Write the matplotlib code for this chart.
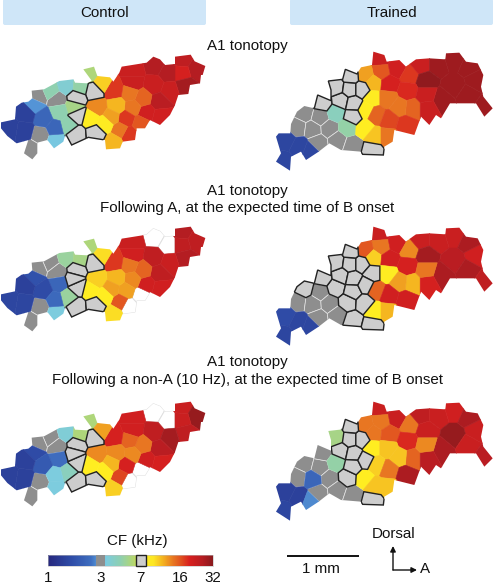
"""
A1 tonotopy maps, control vs trained, coloured by CF (kHz).
Sites and map outlines were read off by hand, in 3x picture units.
Cells are the Voronoi cells of the sites, cut to the map outline.
"""
from math import log2

import numpy as np
import matplotlib
matplotlib.use("Agg")
import matplotlib.pyplot as plt
from matplotlib.colors import LinearSegmentedColormap, LogNorm
from matplotlib.patches import FancyBboxPatch, Polygon, Rectangle

plt.rcParams['font.family'] = ['Liberation Sans', 'DejaVu Sans']

# g = no tone response (grey), s = selected (boxed), w = empty site
CTRL_SITES = [
    (548,180), (590,205), (545,218), (555,258), (465,195), (400,212), (505,218), (400,248),
    (462,255), (510,272), (478,305), (440,338), (482,348), (428,295), (390,280), (398,322),
    (378,355), (388,405), (425,370), (360,390), (340,425), (342,272), (350,318), (292,322),
    (335,350), (272,355), (315,372), (282,272), (230,292), (232,345), (228,405), (288,400),
    (222,322), (178,335), (152,272), (200,258), (240,262), (270,222), (305,250), (115,288),
    (172,298), (103,315), (130,355), (78,340), (30,385), (122,405), (95,450), (168,422),
    (205,375), (165,385), (72,392),
]
CTRL_ROW1 = [24, 26, 20, 28, 26, 22, 26, 22, 22, 22, 25, 21, 21, 15, 14, 14, 18, 18, 16, 14, 11,
             18, 11, 13, 12, 8, 8.3, 's', 's', 's', 's', 's', 5.5, 4.6, 4.6, 3.7, 4.8, 5.8, 10,
             'g', 'g', 2.8, 2.2, 1.4, 1.4, 'g', 'g', 3.3, 4.6, 2.2, 1.4]
CTRL_ROW2 = [26, 24, 24, 26, 'w', 22, 'w', 21, 24, 22, 24, 21, 21, 15, 14, 13, 12, 'w', 'w', 16, 9.5,
             18, 11, 10, 12, 8, 8, 's', 's', 's', 's', 's', 's', 2.2, 'g', 5, 5.5, 5.8, 9.5,
             'g', 'g', 1.7, 1.6, 1.4, 1.5, 'g', 'g', 3.4, 5, 2.3, 1.5]
CTRL_ROW3 = [22, 30, 22, 24, 'w', 21, 'w', 21, 24, 28, 25, 21, 20, 14, 15, 13, 20, 'w', 'w', 17, 10,
             20, 13, 13, 11, 8, 8, 's', 's', 's', 's', 's', 's', 2.4, 'g', 3.6, 5.8, 5.8, 12,
             'g', 'g', 1.6, 1.9, 1.4, 1.4, 'g', 'g', 3.4, 4.2, 3.4, 1.4]
CTRL_OUTLINE = [
    (250,208), (282,200), (292,228), (330,232), (340,245), (358,218), (365,200), (440,188),
    (460,170), (480,178), (495,195), (525,192), (525,170), (572,164), (584,184), (616,198),
    (608,225), (603,225), (600,250), (570,255), (565,282), (535,285), (525,315), (510,345),
    (480,375), (450,360), (435,385), (410,385), (405,420), (368,425), (360,445), (318,448),
    (315,420), (265,412), (215,435), (197,402), (190,425), (162,445), (142,420), (112,428),
    (112,460), (97,478), (72,460), (85,420), (50,430), (22,408), (3,385), (3,367), (45,358),
    (48,320), (65,308), (85,305), (97,295), (95,272), (132,268), (178,243), (220,238),
    (225,248), (262,250), (275,242),
]

TRND_SITES = [
    (120,420), (112,485), (160,440), (192,452), (175,340), (222,352), (155,382), (200,388),
    (250,385), (215,428), (275,420), (320,435), (270,338), (305,382), (230,308), (285,302),
    (322,310), (270,262), (312,268), (347,268), (315,228), (320,350), (402,175), (405,215),
    (455,205), (490,225), (525,195), (575,195), (625,180), (690,240), (540,242), (625,258),
    (590,300), (665,285), (718,322), (358,225), (382,248), (430,252), (485,272), (378,295),
    (425,295), (500,325), (545,325), (460,322), (360,330), (390,345), (430,360), (480,375),
    (355,385), (385,410), (425,410), (378,450), (670,200), (540,285),
]
TRND_ROW1 = [1.5, 1.5, 1.5, 1.5, 'g', 'g', 'g', 'g', 'g', 'g', 'g', 'g', 4.2, 4.8,
             's', 's', 's', 's', 's', 's', 's', 's',
             22, 16, 21, 18, 22, 29, 29, 29, 31, 29, 29, 29, 29, 12, 11, 20, 19, 8.2, 14, 15, 22, 14,
             8, 15, 17, 18, 8, 10.5, 14, 's', 29, 22]
TRND_ROW2 = [1.6, 1.5, 1.5, 1.5, 's', 'g', 'g', 'g', 'g', 'g', 'g', 's', 's', 's',
             's', 's', 's', 's', 's', 's', 's', 's',
             22, 14, 21, 13, 22, 22, 22, 21, 28, 25, 27, 27, 24, 16, 10, 21, 20, 's', 8.2, 11, 20, 12,
             's', 15, 21, 21, 's', 8, 11, 's', 27, 14]
TRND_ROW3 = [1.4, 1.5, 1.4, 2.7, 'g', 'g', 'g', 2.2, 'g', 'g', 'g', 'g', 4.8, 's',
             'g', 's', 's', 5.5, 's', 's', 's', 's',
             22, 14, 22, 14, 24, 22, 21, 22, 22, 30, 27, 22, 25, 14, 14, 16, 19, 8, 10.5, 15, 25, 10.5,
             's', 10, 14, 27, 8, 10.5, 10.5, 's', 27, 13]
TRND_OUTLINE = [
    (382,155), (415,165), (422,185), (460,180), (480,200), (500,185), (510,178), (550,175),
    (598,178), (600,160), (640,158), (660,185), (695,190), (712,225), (705,260), (712,290),
    (740,325), (715,350), (690,310), (612,310), (585,355), (570,345), (550,375), (525,350),
    (505,405), (445,390), (440,425), (415,440), (412,465), (350,463), (345,455), (285,450),
    (250,430), (218,455), (180,480), (165,455), (135,470), (132,512), (90,485), (105,460),
    (90,410), (98,400), (133,400), (135,372), (153,335), (175,318), (205,325), (215,285),
    (255,302), (255,270), (247,243), (290,238), (298,208), (333,222), (345,202), (378,195),
]

CF_TICKS = [1, 3, 7, 16, 32]
TITLE_LINES = [
    ["A1 tonotopy"],
    ["A1 tonotopy", "Following A, at the expected time of B onset"],
    ["A1 tonotopy", "Following a non-A (10 Hz), at the expected time of B onset"],
]

# colour stops: position on log2(CF), colour
cf_stops = [(0, '#27297f'), (0.7, '#2f4da8'), (1.3, '#3f6fc0'), (1.55, '#5ba0dd'),
            (1.75, '#7ccce0'), (2.2, '#8fd0b0'), (2.6, '#b5d76f'), (2.95, '#ffee20'),
            (3.2, '#fde725'), (3.5, '#f4b120'), (3.8, '#e87722'), (4.05, '#e04f20'),
            (4.3, '#d8201f'), (4.7, '#b51d22'), (5, '#8b1a1d')]
cf_cmap = LinearSegmentedColormap.from_list(
    "cf", [(pos / 5, col) for pos, col in cf_stops])
cf_norm = LogNorm(1, 32)

GREY = '#8e8e8e'
BOXED = '#cdcdcd'
BOX_EDGE = '#222222'
EMPTY_EDGE = '#e0e0e0'


def bar_x(cf):
    # pixel position of a CF on the colour bar
    return 48 + 33 * log2(cf)


def clip_half_plane(poly, mid, normal):
    # keep the side of the line through mid that normal points away from
    out = []
    for i in range(len(poly)):
        a, b = poly[i], poly[(i + 1) % len(poly)]
        da, db = np.dot(a - mid, normal), np.dot(b - mid, normal)
        if da <= 0:
            out.append(a)
        if da * db < 0:
            out.append(a + (b - a) * da / (da - db))
    return np.array(out)


def voronoi_cells(sites):
    sites = np.array(sites, dtype=float)
    cells = []
    for i, s in enumerate(sites):
        poly = s + np.array([[-200, -200], [200, -200], [200, 200], [-200, 200]], dtype=float)
        for j, other in enumerate(sites):
            if i != j:
                poly = clip_half_plane(poly, (s + other) / 2, other - s)
        cells.append(poly)
    return cells


def stroke_outline(ax, outline_pts, cell_pts, color, lw, zorder):
    # the part of the map outline that belongs to one cell, not cut in half by the clip
    stroke = Polygon(outline_pts, fc='none', ec=color, lw=lw, zorder=zorder)
    ax.add_patch(stroke)
    stroke.set_clip_path(Polygon(cell_pts, transform=ax.transData))


def draw_map(ax, sites, outline, values, dx, dy):
    offset = np.array([dx, dy])
    outline_pts = np.array(outline) / 3 + offset
    edge = Polygon(outline_pts, transform=ax.transData)
    selected = []
    for poly, val in zip(voronoi_cells(sites), values, strict=True):
        pts = poly / 3 + offset
        if val == 's':
            selected.append(pts)
            continue
        if val == 'g':
            patch = Polygon(pts, fc=GREY, ec='#e4e4e4', lw=0.5, zorder=2)
        elif val == 'w':
            patch = Polygon(pts, fc='white', ec=EMPTY_EDGE, lw=0.7, zorder=1)
            stroke_outline(ax, outline_pts, pts, EMPTY_EDGE, 0.7, 1)
        else:
            col = cf_cmap(cf_norm(val))
            patch = Polygon(pts, fc=col, ec=col, lw=0.4, zorder=3)
        ax.add_patch(patch)
        patch.set_clip_path(edge)
    for pts in selected:
        patch = Polygon(pts, fc=BOXED, ec=BOX_EDGE, lw=1.0, zorder=4)
        ax.add_patch(patch)
        patch.set_clip_path(edge)
        stroke_outline(ax, outline_pts, pts, BOX_EDGE, 1.0, 5)


fig = plt.figure(figsize=(4.93, 5.88), dpi=100)
ax = fig.add_axes([0, 0, 1, 1])

# column headers
for x0, label in [(3, "Control"), (290, "Trained")]:
    ax.add_patch(FancyBboxPatch((x0 + 2, 1), 199, 22, boxstyle="round,pad=2,rounding_size=2",
                                fc='#cfe6f8', ec='none'))
    ax.text(x0 + 102, 13, label, ha='center', va='center', fontsize=10.9, color='#111111')

# the three rows of maps
ctrl_rows = [CTRL_ROW1, CTRL_ROW2, CTRL_ROW3]
trnd_rows = [TRND_ROW1, TRND_ROW2, TRND_ROW3]
ctrl_dy = [0, 172, 347]
trnd_dy = [0, 175, 350]
for i in range(3):
    draw_map(ax, CTRL_SITES, CTRL_OUTLINE, ctrl_rows[i], 0, ctrl_dy[i])
    draw_map(ax, TRND_SITES, TRND_OUTLINE, trnd_rows[i], 246, trnd_dy[i])

title_y = [[46], [191, 208], [362, 380]]
for lines, ys in zip(TITLE_LINES, title_y):
    for line, y in zip(lines, ys):
        ax.text(247, y, line, ha='center', va='center', fontsize=10.9, color='#111111')

# colour bar
grad = np.logspace(0, 5, 400, base=2).reshape(1, -1)
ax.imshow(grad, cmap=cf_cmap, norm=cf_norm, extent=(bar_x(1), bar_x(32), 566, 555),
          aspect='auto', zorder=2)
ax.add_patch(Rectangle((bar_x(1), 555), bar_x(32) - bar_x(1), 11, fc='none', ec='#bbbbbb',
                       lw=0.4, zorder=3))
ax.add_patch(Rectangle((bar_x(3) - 4.5, 555), 9, 11, fc=GREY, ec='none', zorder=4))
ax.add_patch(Rectangle((bar_x(7) - 5, 555), 10, 11, fc=BOXED, ec='#222222', lw=1, zorder=4))
for cf in CF_TICKS:
    ax.text(bar_x(cf), 578, str(cf), ha='center', va='center', fontsize=10.9, color='#111111')
ax.text(137, 541, "CF (kHz)", ha='center', va='center', fontsize=10.9, color='#111111')

# scale bar and orientation arrows
ax.plot([287, 359], [556, 556], color='#111111', lw=1.4, solid_capstyle='butt')
ax.text(321, 569, "1 mm", ha='center', va='center', fontsize=10.9, color='#111111')
ax.text(394, 534, "Dorsal", ha='center', va='center', fontsize=10.9, color='#111111')
ax.text(425, 569, "A", ha='center', va='center', fontsize=10.9, color='#111111')
for tip in [(393, 546), (417, 570)]:
    ax.annotate("", xy=tip, xytext=(393, 570),
                arrowprops=dict(arrowstyle='-|>', color='#111111', lw=1, mutation_scale=8,
                                shrinkA=0, shrinkB=0))

ax.set_xlim(0, 493)
ax.set_ylim(588, 0)
ax.axis('off')

fig.savefig("out.png", dpi=100)
